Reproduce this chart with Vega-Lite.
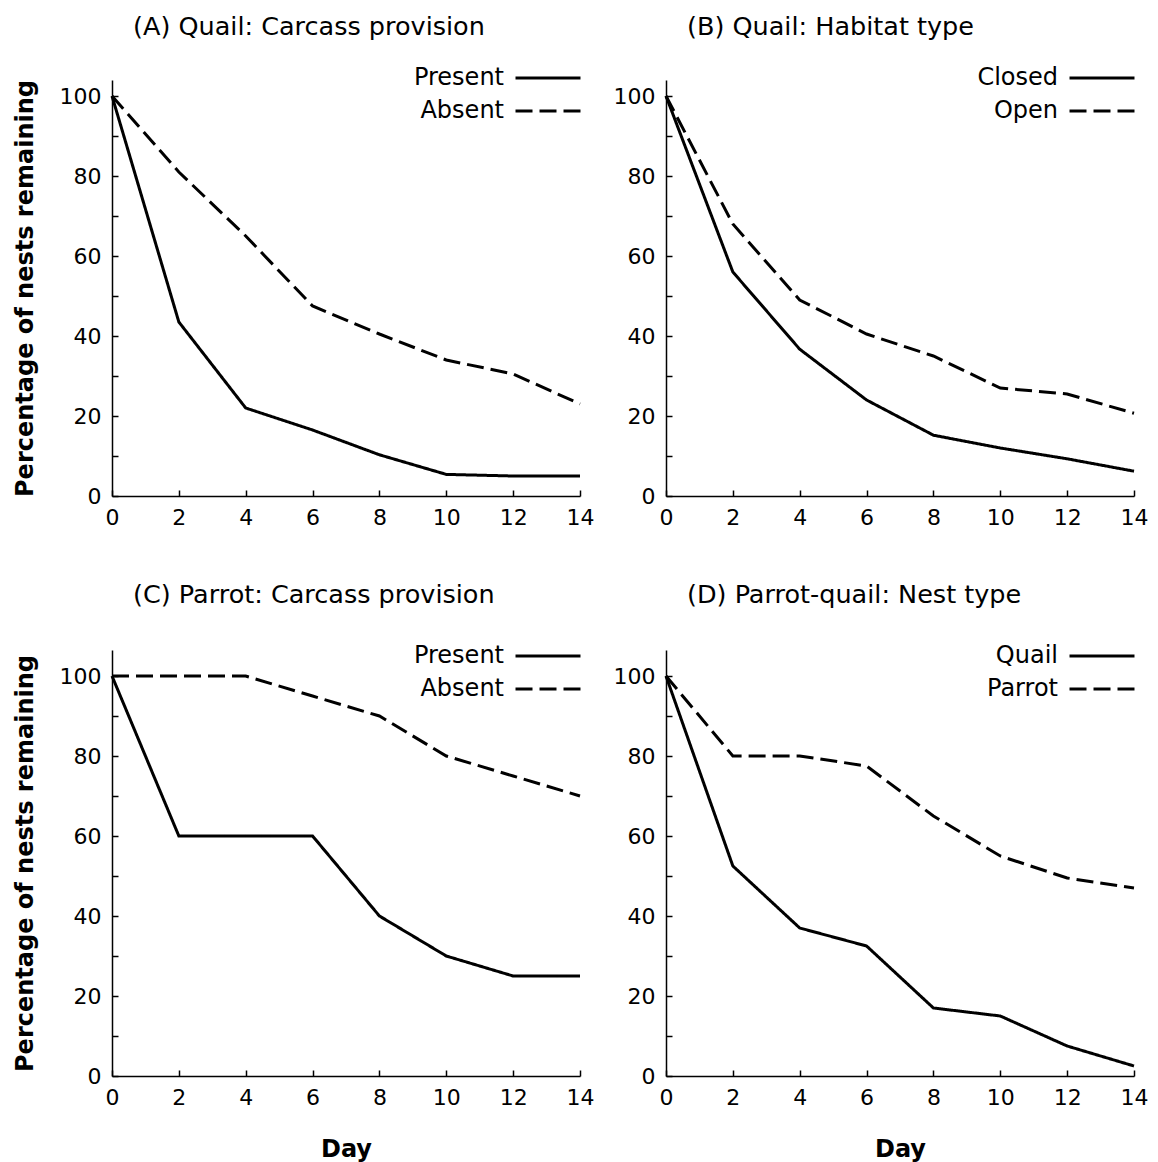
{
  "$schema": "https://vega.github.io/schema/vega-lite/v6.json",
  "background": "white",
  "padding": {"left": 13, "top": 14, "right": 5, "bottom": 5},
  "bounds": "flush",
  "columns": 2,
  "spacing": {"row": 154, "column": 86},
  "config": {
    "font": "DejaVu Sans",
    "view": {"stroke": null},
    "axis": {
      "grid": false,
      "domainColor": "#000000",
      "domainWidth": 1.5,
      "tickColor": "#000000",
      "tickWidth": 1.5,
      "tickSize": -6,
      "labelFont": "DejaVu Sans",
      "labelFontSize": 22,
      "labelColor": "#000000",
      "labelFlush": false,
      "labelPadding": 17,
      "titleFont": "DejaVu Sans",
      "titleFontSize": 24,
      "titleFontWeight": "bold",
      "titleColor": "#000000"
    },
    "title": {"font": "DejaVu Sans", "fontSize": 25.5, "fontWeight": "normal", "color": "#000000", "anchor": "start", "frame": "group", "dx": 21},
    "legend": {
      "orient": "none",
      "legendX": 418,
      "title": null,
      "padding": 0,
      "rowPadding": 3,
      "labelFont": "DejaVu Sans",
      "labelFontSize": 24,
      "labelColor": "#000000",
      "labelAlign": "right",
      "labelOffset": -62,
      "symbolType": "M-2,0L2,0",
      "symbolSize": 1056,
      "symbolStrokeWidth": 3,
      "symbolStrokeColor": "#000000"
    }
  },
  "data": {"values": [
    {"panel": "A", "group": "Present", "day": 0, "pct": 100},
    {"panel": "A", "group": "Present", "day": 2, "pct": 43.5},
    {"panel": "A", "group": "Present", "day": 4, "pct": 22},
    {"panel": "A", "group": "Present", "day": 6, "pct": 16.5},
    {"panel": "A", "group": "Present", "day": 8, "pct": 10.3},
    {"panel": "A", "group": "Present", "day": 10, "pct": 5.4},
    {"panel": "A", "group": "Present", "day": 12, "pct": 5},
    {"panel": "A", "group": "Present", "day": 14, "pct": 5},
    {"panel": "A", "group": "Absent", "day": 0, "pct": 100},
    {"panel": "A", "group": "Absent", "day": 2, "pct": 81},
    {"panel": "A", "group": "Absent", "day": 4, "pct": 65},
    {"panel": "A", "group": "Absent", "day": 6, "pct": 47.5},
    {"panel": "A", "group": "Absent", "day": 8, "pct": 40.5},
    {"panel": "A", "group": "Absent", "day": 10, "pct": 34},
    {"panel": "A", "group": "Absent", "day": 12, "pct": 30.5},
    {"panel": "A", "group": "Absent", "day": 14, "pct": 23},
    {"panel": "B", "group": "Closed", "day": 0, "pct": 100},
    {"panel": "B", "group": "Closed", "day": 2, "pct": 56},
    {"panel": "B", "group": "Closed", "day": 4, "pct": 36.7},
    {"panel": "B", "group": "Closed", "day": 6, "pct": 24},
    {"panel": "B", "group": "Closed", "day": 8, "pct": 15.2},
    {"panel": "B", "group": "Closed", "day": 10, "pct": 12},
    {"panel": "B", "group": "Closed", "day": 12, "pct": 9.3},
    {"panel": "B", "group": "Closed", "day": 14, "pct": 6.2},
    {"panel": "B", "group": "Open", "day": 0, "pct": 100},
    {"panel": "B", "group": "Open", "day": 2, "pct": 68},
    {"panel": "B", "group": "Open", "day": 4, "pct": 49},
    {"panel": "B", "group": "Open", "day": 6, "pct": 40.5},
    {"panel": "B", "group": "Open", "day": 8, "pct": 35},
    {"panel": "B", "group": "Open", "day": 10, "pct": 27},
    {"panel": "B", "group": "Open", "day": 12, "pct": 25.5},
    {"panel": "B", "group": "Open", "day": 14, "pct": 20.7},
    {"panel": "C", "group": "Present", "day": 0, "pct": 100},
    {"panel": "C", "group": "Present", "day": 2, "pct": 60},
    {"panel": "C", "group": "Present", "day": 4, "pct": 60},
    {"panel": "C", "group": "Present", "day": 6, "pct": 60},
    {"panel": "C", "group": "Present", "day": 8, "pct": 40},
    {"panel": "C", "group": "Present", "day": 10, "pct": 30},
    {"panel": "C", "group": "Present", "day": 12, "pct": 25},
    {"panel": "C", "group": "Present", "day": 14, "pct": 25},
    {"panel": "C", "group": "Absent", "day": 0, "pct": 100},
    {"panel": "C", "group": "Absent", "day": 2, "pct": 100},
    {"panel": "C", "group": "Absent", "day": 4, "pct": 100},
    {"panel": "C", "group": "Absent", "day": 6, "pct": 95},
    {"panel": "C", "group": "Absent", "day": 8, "pct": 90},
    {"panel": "C", "group": "Absent", "day": 10, "pct": 80},
    {"panel": "C", "group": "Absent", "day": 12, "pct": 75},
    {"panel": "C", "group": "Absent", "day": 14, "pct": 70},
    {"panel": "D", "group": "Quail", "day": 0, "pct": 100},
    {"panel": "D", "group": "Quail", "day": 2, "pct": 52.5},
    {"panel": "D", "group": "Quail", "day": 4, "pct": 37},
    {"panel": "D", "group": "Quail", "day": 6, "pct": 32.5},
    {"panel": "D", "group": "Quail", "day": 8, "pct": 17},
    {"panel": "D", "group": "Quail", "day": 10, "pct": 15},
    {"panel": "D", "group": "Quail", "day": 12, "pct": 7.5},
    {"panel": "D", "group": "Quail", "day": 14, "pct": 2.5},
    {"panel": "D", "group": "Parrot", "day": 0, "pct": 100},
    {"panel": "D", "group": "Parrot", "day": 2, "pct": 80},
    {"panel": "D", "group": "Parrot", "day": 4, "pct": 80},
    {"panel": "D", "group": "Parrot", "day": 6, "pct": 77.5},
    {"panel": "D", "group": "Parrot", "day": 8, "pct": 65},
    {"panel": "D", "group": "Parrot", "day": 10, "pct": 55},
    {"panel": "D", "group": "Parrot", "day": 12, "pct": 49.5},
    {"panel": "D", "group": "Parrot", "day": 14, "pct": 47}
  ]},
  "resolve": {"scale": {"strokeDash": "independent", "x": "independent", "y": "independent"}, "legend": {"strokeDash": "independent"}},
  "concat": [
    {
      "title": {"text": "(A) Quail: Carcass provision", "offset": 20},
      "width": 468, "height": 416,
      "transform": [{"filter": "datum.panel == 'A'"}],
      "mark": {"type": "line", "color": "#000000", "strokeWidth": 3},
      "encoding": {
        "x": {"field": "day", "type": "quantitative", "scale": {"domain": [0, 14], "nice": false}, "axis": {"title": null, "values": [0,2,4,6,8,10,12,14]}},
        "y": {"field": "pct", "type": "quantitative", "scale": {"domain": [0, 104], "nice": false}, "axis": {"title": "Percentage of nests remaining", "titlePadding": 22, "values": [0,10,20,30,40,50,60,70,80,90,100], "labelExpr": "datum.value % 20 == 0 ? datum.label : ''"}},
        "strokeDash": {"field": "group", "type": "nominal", "scale": {"domain": ["Present", "Absent"], "range": [[1, 0], [17, 7]]}, "legend": {"legendY": -20}},
        "order": {"field": "day", "type": "quantitative"}
      }
    },
    {
      "title": {"text": "(B) Quail: Habitat type", "offset": 20},
      "width": 468, "height": 416,
      "transform": [{"filter": "datum.panel == 'B'"}],
      "mark": {"type": "line", "color": "#000000", "strokeWidth": 3},
      "encoding": {
        "x": {"field": "day", "type": "quantitative", "scale": {"domain": [0, 14], "nice": false}, "axis": {"title": null, "values": [0,2,4,6,8,10,12,14]}},
        "y": {"field": "pct", "type": "quantitative", "scale": {"domain": [0, 104], "nice": false}, "axis": {"title": null, "values": [0,10,20,30,40,50,60,70,80,90,100], "labelExpr": "datum.value % 20 == 0 ? datum.label : ''"}},
        "strokeDash": {"field": "group", "type": "nominal", "scale": {"domain": ["Closed", "Open"], "range": [[1, 0], [17, 7]]}, "legend": {"legendY": -20}},
        "order": {"field": "day", "type": "quantitative"}
      }
    },
    {
      "title": {"text": "(C) Parrot: Carcass provision", "offset": 30},
      "width": 468, "height": 426,
      "transform": [{"filter": "datum.panel == 'C'"}],
      "mark": {"type": "line", "color": "#000000", "strokeWidth": 3},
      "encoding": {
        "x": {"field": "day", "type": "quantitative", "scale": {"domain": [0, 14], "nice": false}, "axis": {"title": "Day", "titlePadding": 29, "values": [0,2,4,6,8,10,12,14]}},
        "y": {"field": "pct", "type": "quantitative", "scale": {"domain": [0, 106.5], "nice": false}, "axis": {"title": "Percentage of nests remaining", "titlePadding": 22, "values": [0,10,20,30,40,50,60,70,80,90,100], "labelExpr": "datum.value % 20 == 0 ? datum.label : ''"}},
        "strokeDash": {"field": "group", "type": "nominal", "scale": {"domain": ["Present", "Absent"], "range": [[1, 0], [17, 7]]}, "legend": {"legendY": -12}},
        "order": {"field": "day", "type": "quantitative"}
      }
    },
    {
      "title": {"text": "(D) Parrot-quail: Nest type", "offset": 30},
      "width": 468, "height": 426,
      "transform": [{"filter": "datum.panel == 'D'"}],
      "mark": {"type": "line", "color": "#000000", "strokeWidth": 3},
      "encoding": {
        "x": {"field": "day", "type": "quantitative", "scale": {"domain": [0, 14], "nice": false}, "axis": {"title": "Day", "titlePadding": 29, "values": [0,2,4,6,8,10,12,14]}},
        "y": {"field": "pct", "type": "quantitative", "scale": {"domain": [0, 106.5], "nice": false}, "axis": {"title": null, "values": [0,10,20,30,40,50,60,70,80,90,100], "labelExpr": "datum.value % 20 == 0 ? datum.label : ''"}},
        "strokeDash": {"field": "group", "type": "nominal", "scale": {"domain": ["Quail", "Parrot"], "range": [[1, 0], [17, 7]]}, "legend": {"legendY": -12}},
        "order": {"field": "day", "type": "quantitative"}
      }
    }
  ]
}
